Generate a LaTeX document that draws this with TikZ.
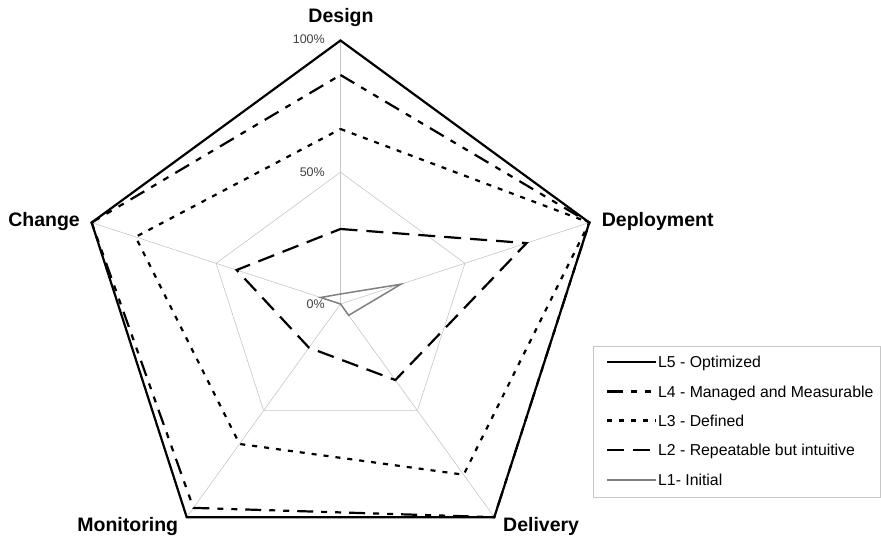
\documentclass[tikz,border=0pt]{standalone}
\usepackage{fontspec}
\setmainfont{Liberation Sans}

\begin{document}
\begin{tikzpicture}[x=1pt, y=1pt,
        grid/.style={draw=gray!45, line width=0.6pt},
        lvfive/.style={draw=black, line width=2.2pt, line join=miter},
        lvfour/.style={draw=black, line width=2.2pt, dash pattern=on 16pt off 8pt on 6pt off 8pt on 6pt off 8pt},
        lvthree/.style={draw=black, line width=2.2pt, dash pattern=on 5pt off 7pt},
        lvtwo/.style={draw=black, line width=2.2pt, dash pattern=on 17pt off 9pt},
        lvone/.style={draw=gray, line width=1.5pt},
        axislabel/.style={font=\fontsize{19.5}{22}\selectfont\bfseries, inner sep=0pt},
        pctlabel/.style={font=\fontsize{12.5}{14}\selectfont, text=black!75, inner sep=0pt, anchor=east},
        legtext/.style={font=\fontsize{15.8}{18}\selectfont, inner sep=0pt, anchor=base west}]

        \useasboundingbox (-340.5,-234) rectangle (540.5,304);

    \begin{scope}[xscale=0.993]
        \coordinate (o) at (0,0);
        \coordinate (design) at (90:263.5);
        \coordinate (deploy) at (18:263.5);
        \coordinate (deliver) at (-54:263.5);
        \coordinate (monitor) at (-126:263.5);
        \coordinate (change) at (162:263.5);

        % grid
        \draw[grid] (o) -- (design);
        \draw[grid] (o) -- (deploy);
        \draw[grid] (o) -- (deliver);
        \draw[grid] (o) -- (monitor);
        \draw[grid] (o) -- (change);
        \draw[grid] (90:131.75) -- (18:131.75) -- (-54:131.75) -- (-126:131.75) -- (162:131.75) -- cycle;

        % levels
        \draw[lvfive] (design) -- (deploy) -- (deliver) -- (monitor) -- (change) -- cycle;
        \draw[lvfour] (90:229) -- (deploy) -- (deliver) -- (-126:252) -- (change) -- cycle;
        \draw[lvthree] (90:175) -- (deploy) -- (-54:211) -- (-126:173) -- (162:217) -- cycle;
        \draw[lvtwo] (90:75) -- (18:197) -- (-54:94) -- (-126:54) -- (162:110) -- cycle;
        \draw[lvone] (90:10) -- (18:64) -- (-54:14) -- (o) -- (162:21) -- cycle;
    \end{scope}

        % scale
        \node[pctlabel] (p100) at (-15.5,265) {100\%};
        \node[pctlabel] (p50) at (-15.5,131.5) {50\%};
        \node[pctlabel] (p0) at (-15.5,0) {0\%};

        % axis names
        \node[axislabel, anchor=base] (ldesign) at (0.5,281) {Design};
        \node[axislabel, anchor=base west] (ldeploy) at (261.2,77) {Deployment};
        \node[axislabel, anchor=base east] (lchange) at (-260.5,77) {Change};
        \node[axislabel, anchor=base east] (lmonitor) at (-162.2,-227) {Monitoring};
        \node[axislabel, anchor=base west] (ldeliver) at (162.5,-227) {Delivery};

        % legend
        \draw[draw=gray!45, line width=0.8pt] (252.5,-42) rectangle (539.5,-193);
        \node[legtext] (legfive) at (317.5,-63.9) {L5 - Optimized};
        \node[legtext] (legfour) at (317.5,-93.1) {L4 - Managed and Measurable};
        \node[legtext] (legthree) at (317.5,-122.1) {L3 - Defined};
        \node[legtext] (legtwo) at (317.5,-151.6) {L2 - Repeatable but intuitive};
        \node[legtext] (legone) at (317.5,-181.6) {L1- Initial};
        \draw[lvfive] (266.5,-58.3) -- (315.5,-58.3);
        \draw[lvfour] (266.5,-87.5) -- (315.5,-87.5);
        \draw[lvthree] (266.5,-116.5) -- (315.5,-116.5);
        \draw[lvtwo] (266.5,-146) -- (315.5,-146);
        \draw[lvone] (266.5,-176) -- (315.5,-176);

\end{tikzpicture}
\end{document}
